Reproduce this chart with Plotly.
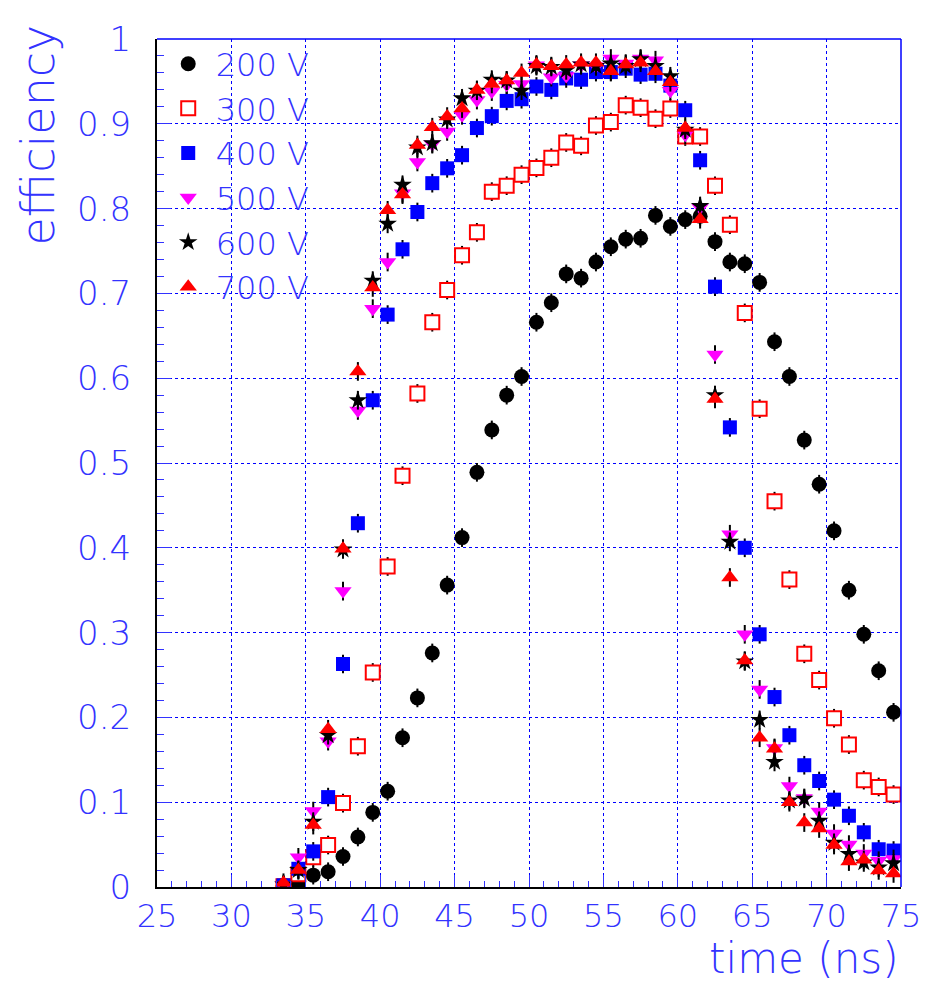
import plotly.graph_objects as go

t = [33.5, 34.5, 35.5, 36.5, 37.5, 38.5, 39.5, 40.5, 41.5, 42.5, 43.5, 44.5, 45.5, 46.5,
     47.5, 48.5, 49.5, 50.5, 51.5, 52.5, 53.5, 54.5, 55.5, 56.5, 57.5, 58.5, 59.5, 60.5,
     61.5, 62.5, 63.5, 64.5, 65.5, 66.5, 67.5, 68.5, 69.5, 70.5, 71.5, 72.5, 73.5, 74.5]

eff_200 = [0.002, 0.003, 0.014, 0.018, 0.036, 0.059, 0.088, 0.113, 0.176, 0.223, 0.276, 0.356,
           0.412, 0.489, 0.539, 0.580, 0.602, 0.666, 0.689, 0.723, 0.718, 0.737, 0.755, 0.764,
           0.765, 0.792, 0.779, 0.787, 0.791, 0.761, 0.737, 0.735, 0.713, 0.643, 0.602, 0.527,
           0.475, 0.420, 0.350, 0.298, 0.255, 0.206]
eff_300 = [0.001, 0.015, 0.035, 0.0495, 0.099, 0.166, 0.253, 0.378, 0.485, 0.582, 0.666, 0.704,
           0.745, 0.772, 0.820, 0.827, 0.840, 0.848, 0.860, 0.878, 0.874, 0.898, 0.902, 0.922,
           0.919, 0.906, 0.918, 0.885, 0.885, 0.827, 0.781, 0.677, 0.564, 0.455, 0.3625, 0.275,
           0.244, 0.199, 0.168, 0.126, 0.118, 0.109]
eff_400 = [0.002, 0.0215, 0.042, 0.106, 0.263, 0.429, 0.574, 0.675, 0.752, 0.796, 0.830, 0.8475,
           0.863, 0.895, 0.909, 0.927, 0.929, 0.944, 0.940, 0.9535, 0.952, 0.961, 0.961, 0.965,
           0.958, 0.959, 0.945, 0.916, 0.857, 0.708, 0.542, 0.400, 0.298, 0.224, 0.179, 0.1436,
           0.125, 0.103, 0.084, 0.0645, 0.0445, 0.043]
eff_500 = [0.002, 0.035, 0.0895, 0.172, 0.349, 0.562, 0.682, 0.737, 0.818, 0.855, 0.876, 0.891,
           0.910, 0.928, 0.938, 0.946, 0.947, 0.969, 0.955, 0.9565, 0.969, 0.968, 0.977, 0.971,
           0.977, 0.975, 0.939, 0.887, 0.801, 0.628, 0.416, 0.298, 0.233, 0.164, 0.119, 0.105,
           0.089, 0.063, 0.050, 0.0395, 0.031, 0.033]
eff_600 = [0.003, 0.020, 0.077, 0.179, 0.398, 0.574, 0.715, 0.782, 0.828, 0.872, 0.877, 0.905,
           0.930, 0.939, 0.952, 0.951, 0.939, 0.968, 0.967, 0.963, 0.970, 0.968, 0.971, 0.968,
           0.976, 0.968, 0.956, 0.893, 0.803, 0.580, 0.407, 0.266, 0.197, 0.1475, 0.102, 0.104,
           0.078, 0.052, 0.039, 0.029, 0.023, 0.028]
eff_700 = [0.005, 0.020, 0.073, 0.186, 0.399, 0.608, 0.707, 0.798, 0.8165, 0.875, 0.896, 0.9085,
           0.918, 0.940, 0.947, 0.951, 0.960, 0.970, 0.968, 0.970, 0.972, 0.972, 0.962, 0.970,
           0.972, 0.962, 0.949, 0.895, 0.7875, 0.5755, 0.365, 0.267, 0.176, 0.163, 0.100, 0.076,
           0.069, 0.0495, 0.030, 0.032, 0.0196, 0.016]

labels = ["200 V", "300 V", "400 V", "500 V", "600 V", "700 V"]
x_ticks = [25, 30, 35, 40, 45, 50, 55, 60, 65, 70, 75]
y_ticks = [0, 0.1, 0.2, 0.3, 0.4, 0.5, 0.6, 0.7, 0.8, 0.9, 1]
y_ticktext = ["0", "0.1", "0.2", "0.3", "0.4", "0.5", "0.6", "0.7", "0.8", "0.9", "1"]

BLUE = "#3333ff"
FONT = "DejaVu Sans"

styles = [
    dict(symbol="circle", size=15, color="black"),
    dict(symbol="square", size=14, color="white", line=dict(width=2, color="#ff0000")),
    dict(symbol="square", size=14, color="#0000ff"),
    dict(symbol="triangle-down", size=15, color="#ff00ff"),
    dict(symbol="star", size=14, color="black"),
    dict(symbol="triangle-up", size=15, color="#ff0000"),
]
series = [eff_200, eff_300, eff_400, eff_500, eff_600, eff_700]

fig = go.Figure()
for lab, ys, st in zip(labels, series, styles):
    fig.add_trace(go.Scatter(
        x=t, y=ys, mode="markers", name=lab,
        marker=st,
        error_y=dict(type="constant", value=0.011, color="black", thickness=2, width=0),
        cliponaxis=True,
    ))

axis_common = dict(
    showline=True, linecolor="black", linewidth=2, mirror=False,
    ticks="inside", tickcolor=BLUE, tickwidth=1,
    showgrid=True, gridcolor="#0000ff", griddash="dot", gridwidth=1,
    zeroline=False, ticklabeloverflow="allow",
)

fig.update_xaxes(range=[25, 75], tickvals=x_ticks, ticklen=12,
                 minor=dict(dtick=1, ticklen=6, tickcolor=BLUE, ticks="inside", showgrid=False),
                 ticklabelstandoff=0,
                 tickfont=dict(family=FONT, size=32, color=BLUE, weight=200), **axis_common)
fig.update_yaxes(range=[0, 1], tickvals=y_ticks, ticktext=y_ticktext, ticklen=14,
                 minor=dict(dtick=0.02, ticklen=7, tickcolor=BLUE, ticks="inside", showgrid=False),
                 ticklabelstandoff=17,
                 tickfont=dict(family=FONT, size=34, color=BLUE, weight=200), **axis_common)

# blue frame on top and right
fig.add_shape(type="line", xref="x domain", yref="y domain", x0=0, x1=1, y0=1, y1=1,
              line=dict(color="#0000ff", width=1.5))
fig.add_shape(type="line", xref="x domain", yref="y domain", x0=1, x1=1, y0=0, y1=1,
              line=dict(color="#0000ff", width=1.5))

fig.add_annotation(text="efficiency", xref="paper", yref="paper", x=-0.16, y=1.02,
                   xanchor="center", yanchor="top", textangle=-90, showarrow=False,
                   font=dict(family=FONT, size=46, color=BLUE, weight=200))
fig.add_annotation(text="time (ns)", xref="paper", yref="paper", x=1.0, y=-0.084,
                   xanchor="right", yanchor="middle", showarrow=False,
                   font=dict(family=FONT, size=42, color=BLUE, weight=200))

# page body has an 8px margin: figure is offset by (8, 8) in the window
fig.update_layout(
    width=924, height=974,
    margin=dict(l=149, r=26, t=11, b=95),
    paper_bgcolor="white", plot_bgcolor="white",
    legend=dict(x=0.005, y=1.003, xanchor="left", yanchor="top", itemwidth=45,
                bgcolor="rgba(0,0,0,0)", borderwidth=0, tracegroupgap=0,
                font=dict(family=FONT, size=32, color=BLUE, weight=200)),
    showlegend=True,
)

fig.write_html("out.html")
